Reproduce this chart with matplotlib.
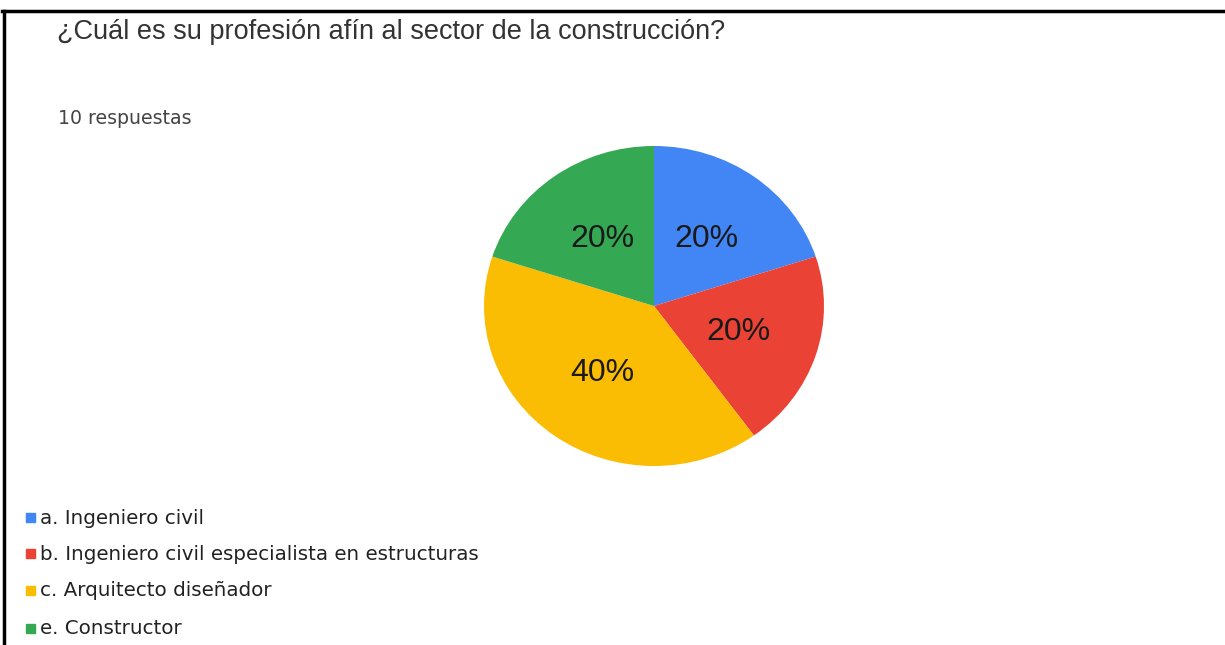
import matplotlib.pyplot as plt
from matplotlib.lines import Line2D
from matplotlib.patches import Rectangle

# datos de la encuesta
categorias = ["a. Ingeniero civil",
              "b. Ingeniero civil especialista en estructuras",
              "c. Arquitecto diseñador",
              "e. Constructor"]
respuestas = [2, 2, 4, 2]
colores = ["#4285F4", "#EA4335", "#FBBC04", "#34A853"]

titulo = "¿Cuál es su profesión afín al sector de la construcción?"
subtitulo = "10 respuestas"

W, H = 1225, 645
fig = plt.figure(figsize=(W / 100, H / 100), dpi=100)
fig.patch.set_facecolor("white")

# marco negro (arriba e izquierda)
fig.add_artist(Line2D([3.5 / W, 3.5 / W], [0, 1 - 11 / H], color="black", lw=2.5))
fig.add_artist(Line2D([2 / W, 1], [1 - 11 / H, 1 - 11 / H], color="black", lw=2.5))

# pastel (ligeramente ovalado como en la captura)
cx, cy, rx, ry = 654, 306, 170, 160
ax = fig.add_axes([(cx - rx) / W, (H - cy - ry) / H, 2 * rx / W, 2 * ry / H])
ax.pie(respuestas, colors=colores, startangle=90, counterclock=False,
       autopct="%1.0f%%", pctdistance=0.52,
       textprops=dict(fontsize=23, color="#1a1a1a", family="Liberation Sans"),
       wedgeprops=dict(linewidth=0))
ax.set_aspect("auto")
ax.set_xlim(-1, 1)
ax.set_ylim(-1, 1)

# textos
fig.text(57 / W, 1 - 32 / H, titulo, fontsize=19.5, color="#333333",
         family="Liberation Sans", va="center", ha="left")
fig.text(58 / W, 1 - 118 / H, subtitulo, fontsize=13.6, color="#444444",
         family="DejaVu Sans", va="center", ha="left")

# leyenda
ys = [518, 554, 591, 629]
for cat, col, y in zip(categorias, colores, ys):
    fig.add_artist(Rectangle((26 / W, 1 - (y + 4) / H), 9 / W, 9 / H,
                             color=col, transform=fig.transFigure))
    fig.text(40 / W, 1 - y / H, cat, fontsize=14.3, color="#222222",
             family="DejaVu Sans", va="center", ha="left")

fig.savefig("out.png", dpi=100)
